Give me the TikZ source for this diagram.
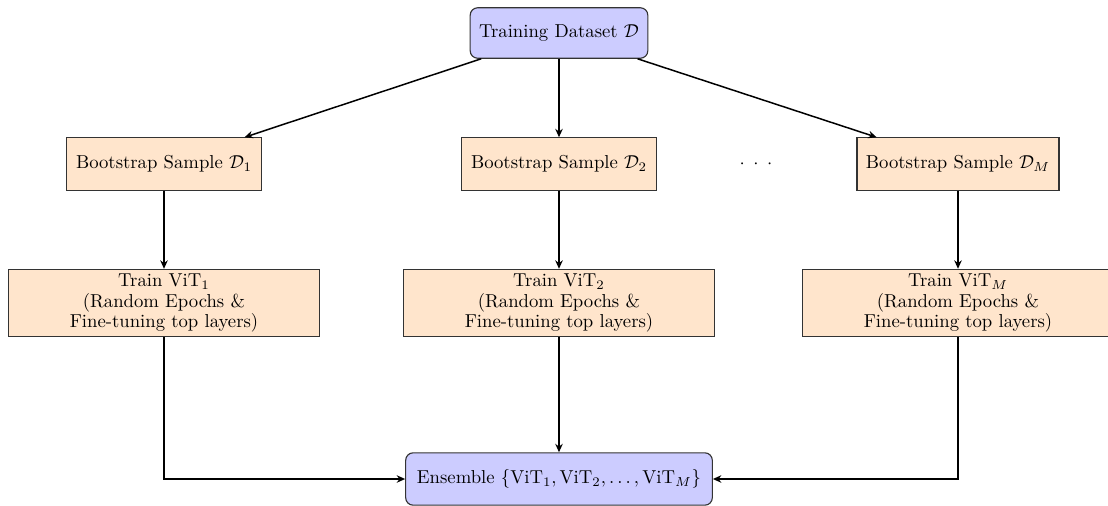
\documentclass[tikz,border=0pt]{standalone}
\usepackage{amsmath}
\usetikzlibrary{positioning,arrows.meta}
\definecolor{boxorange}{RGB}{255,229,204}
\definecolor{boxblue}{RGB}{204,204,255}
\tikzset{
  rbox/.style={draw=black!80, fill=boxblue, rounded corners=4pt, semithick,
    align=center, inner sep=3pt},
  sbox/.style={draw=black!80, fill=boxorange, semithick, align=center, inner sep=3pt},
  tbox/.style={sbox, inner ysep=1.5pt, minimum width=166pt, minimum height=36pt},
  link/.style={-{Stealth[length=4.5pt,width=4pt]}, thick},
}
\begin{document}
\begin{tikzpicture}[x=0.5348pt, y=-0.5348pt]
  \useasboundingbox (0,0) rectangle (1108,506);

  % source dataset
  \node[rbox, minimum width=95pt, minimum height=27pt] (data) at (559,33)
    {Training Dataset $\mathcal{D}$};

  % bootstrap samples
  \node[sbox, minimum width=104pt, minimum height=28pt] (b1) at (164,164)
    {Bootstrap Sample $\mathcal{D}_1$};
  \node[sbox, minimum width=104pt, minimum height=28pt] (b2) at (559,164)
    {Bootstrap Sample $\mathcal{D}_2$};
  \node (dots) at (756,164) {${\cdot}\hspace{4.6pt}{\cdot}\hspace{4.6pt}{\cdot}$};
  \node[sbox, minimum width=108pt, minimum height=28pt] (bm) at (958,164)
    {Bootstrap Sample $\mathcal{D}_M$};

  % training of each member
  \node[tbox] (t1) at (164,303)
    {Train ViT$_1$\\[-1.2pt](Random Epochs \&\\[-1.2pt]Fine-tuning top layers)};
  \node[tbox] (t2) at (559,303)
    {Train ViT$_2$\\[-1.2pt](Random Epochs \&\\[-1.2pt]Fine-tuning top layers)};
  \node[tbox] (tm) at (958,303)
    {Train ViT$_M$\\[-1.2pt](Random Epochs \&\\[-1.2pt]Fine-tuning top layers)};

  % ensemble
  \node[rbox, minimum width=164pt, minimum height=28pt] (ens) at (559,479)
    {Ensemble $\{\text{ViT}_1, \text{ViT}_2, \dots, \text{ViT}_M\}$};

  % connectors
  \draw[link] (data) -- (b1);
  \draw[link] (data) -- (b2);
  \draw[link] (data) -- (bm);
  \draw[link] (b1) -- (t1);
  \draw[link] (b2) -- (t2);
  \draw[link] (bm) -- (tm);
  \draw[link] (t1) |- (ens);
  \draw[link] (t2) -- (ens);
  \draw[link] (tm) |- (ens);
\end{tikzpicture}
\end{document}
